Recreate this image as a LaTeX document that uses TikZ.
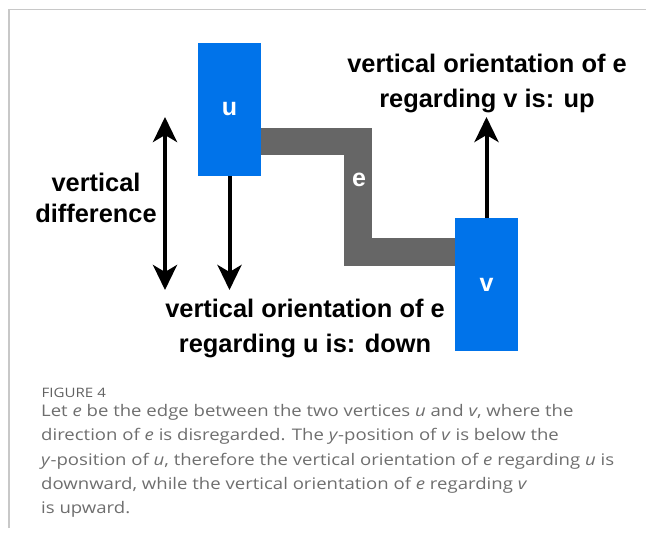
\documentclass[tikz,border=0pt]{standalone}
\usepackage{fontspec}
\setmainfont{Liberation Sans}
\newfontfamily\capfont[FakeStretch=1.16]{Open Sans}
\usetikzlibrary{arrows.meta}
\definecolor{vblue}{RGB}{0,115,234}
\definecolor{egray}{RGB}{102,102,102}
\definecolor{framegray}{RGB}{200,200,200}
\definecolor{capgray}{RGB}{110,110,110}
\tikzset{
  vertexbox/.style={rectangle, fill=vblue, draw=none, minimum width=63pt, minimum height=133pt,
    inner sep=0pt, text=white, font=\bfseries\fontsize{25}{30}\selectfont},
  edgeline/.style={line width=27.5pt, draw=egray, line join=miter, line cap=butt},
  edgelabel/.style={text=white, font=\bfseries\fontsize{25}{30}\selectfont, inner sep=0pt},
  arr/.style={line width=4pt, -{Stealth[length=25pt,width=24pt,inset=7pt]}},
  arrtwo/.style={line width=4pt, {Stealth[length=25pt,width=24pt,inset=7pt]}-{Stealth[length=25pt,width=24pt,inset=7pt]}},
  lbl/.style={anchor=base, inner sep=0pt, font=\bfseries\fontsize{25.4}{30}\selectfont},
  capline/.style={anchor=base west, inner sep=0pt, text=capgray, font=\capfont\fontsize{16}{20}\selectfont},
  frameline/.style={line width=1.5pt, draw=framegray}
}
\begin{document}
\begin{tikzpicture}[x=1pt,y=-1pt]
\useasboundingbox (0,0) rectangle (646,535);
% frame
\coordinate (fa) at (9,528);
\coordinate (fb) at (9,9.5);
\coordinate (fc) at (646,9.5);
\draw[frameline] (fa) -- (fb) -- (fc);
% vertices
\node[vertexbox] (u) at (229.5,109.5) {u};
\node[vertexbox] (v) at (486.5,284.5) {v};
% edge
\coordinate (bend) at (358,200);
\draw[edgeline] ([yshift=-32pt]u.east) -| (bend) |- ([yshift=32.5pt]v.west);
\node[edgelabel] (e) at (359,180) {e};
% arrows
\coordinate (dtip) at (230,290);
\coordinate (utip) at (487,117);
\coordinate (dtop) at (165,117);
\coordinate (dbot) at (165,290);
\draw[arr] (u.south) -- (u.south |- dtip);
\draw[arr] (v.north) -- (v.north |- utip);
\draw[arrtwo] (dtop) -- (dbot);
% labels
\node[lbl] (t1) at (487,73) {vertical orientation of e};
\node[lbl] (t2) at (487,108) {regarding v is: up};
\node[lbl] (t3) at (305,317) {vertical orientation of e};
\node[lbl] (t4) at (305,352) {regarding u is: down};
\node[lbl] (t5) at (96,191) {vertical};
\node[lbl] (t6) at (96,222) {difference};
% caption
\node[capline, font=\capfont\fontsize{13}{16}\selectfont, text=black!62] (fig) at (41.5,397) {FIGURE 4};
\node[capline] (c1) at (41,416) {Let \emph{e} be the edge between the two vertices \emph{u} and \emph{v}, where the};
\node[capline] (c2) at (41,440.5) {direction of \emph{e} is disregarded. The \emph{y}-position of \emph{v} is below the};
\node[capline] (c3) at (41,465) {\emph{y}-position of \emph{u}, therefore the vertical orientation of \emph{e} regarding \emph{u} is};
\node[capline] (c4) at (41,489) {downward, while the vertical orientation of \emph{e} regarding \emph{v}};
\node[capline] (c5) at (41,513) {is upward.};
\end{tikzpicture}
\end{document}
